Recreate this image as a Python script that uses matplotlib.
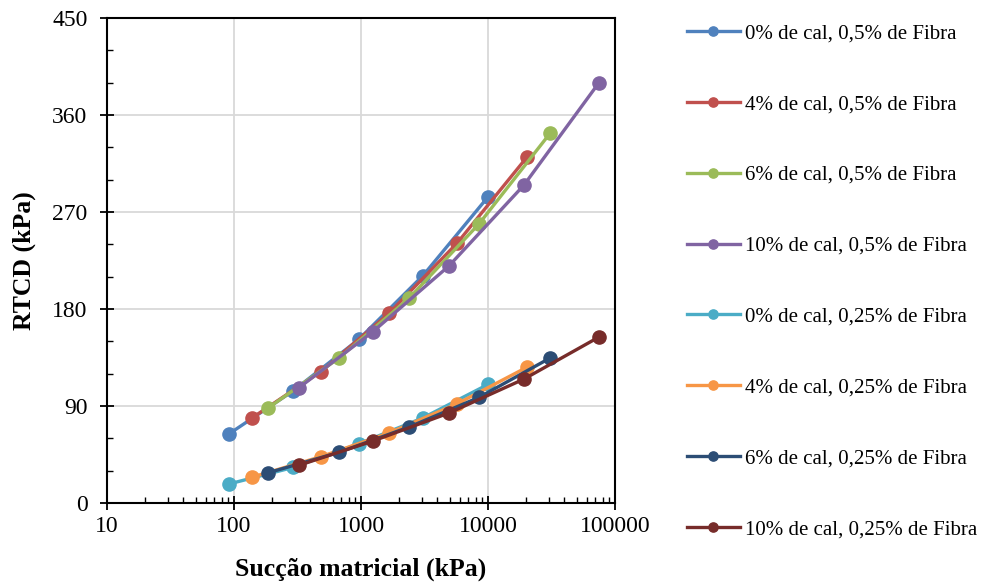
import numpy as np
import matplotlib.pyplot as plt
from matplotlib.ticker import LogLocator, MultipleLocator, NullFormatter

plt.rcParams['font.family'] = ['Liberation Serif', 'DejaVu Serif']

# Data (suction in kPa, RTCD in kPa)
labels = [
    "0% de cal, 0,5% de Fibra",
    "4% de cal, 0,5% de Fibra",
    "6% de cal, 0,5% de Fibra",
    "10% de cal, 0,5% de Fibra",
    "0% de cal, 0,25% de Fibra",
    "4% de cal, 0,25% de Fibra",
    "6% de cal, 0,25% de Fibra",
    "10% de cal, 0,25% de Fibra",
]
colors = ['#4F81BD', '#C0504D', '#9BBB59', '#8064A2',
          '#4BACC6', '#F79646', '#2C4D75', '#772C2A']

suc_0 = [91, 292, 964, 3077, 10000]
suc_4 = [139, 484, 1660, 5700, 20300]
suc_6 = [185, 671, 2390, 8500, 30800]
suc_10 = [325, 1242, 4930, 19200, 74800]

rtcd_0_05 = [64, 104, 152, 211, 284]
rtcd_4_05 = [79, 122, 176, 241, 321]
rtcd_6_05 = [88, 134.5, 190, 259, 343]
rtcd_10_05 = [107, 159, 220, 295, 390]
rtcd_0_025 = [17.6, 33, 55, 79, 110]
rtcd_4_025 = [24, 43, 65, 92, 126]
rtcd_6_025 = [28, 47, 70.5, 98, 134.5]
rtcd_10_025 = [35, 57.5, 83.5, 115, 154]

xs = [suc_0, suc_4, suc_6, suc_10, suc_0, suc_4, suc_6, suc_10]
ys = [rtcd_0_05, rtcd_4_05, rtcd_6_05, rtcd_10_05,
      rtcd_0_025, rtcd_4_025, rtcd_6_025, rtcd_10_025]

fig = plt.figure(figsize=(9.87, 5.87), dpi=100)
ax = fig.add_axes([107/987, 1 - 503/587, (615-107)/987, (503-18)/587])

for x, y, c, lab in zip(xs, ys, colors, labels):
    ax.plot(x, y, color=c, lw=2.4, marker='o', markersize=9.5, label=lab)

ax.set_xscale('log')
ax.set_xlim(10, 100000)
ax.set_ylim(0, 450)
ax.set_yticks([0, 90, 180, 270, 360, 450])
ax.yaxis.set_minor_locator(MultipleLocator(30))
ax.xaxis.set_minor_locator(LogLocator(base=10, subs=np.arange(2, 10)))
ax.xaxis.set_minor_formatter(NullFormatter())
ax.set_xticks([10, 100, 1000, 10000, 100000])
ax.set_xticklabels(['10', '100', '1000', '10000', '100000'])

ax.grid(True, which='major', color='#d9d9d9', lw=1.3)
ax.set_axisbelow(True)
ax.tick_params(which='major', direction='inout', length=10, width=1.3,
               labelsize=17, pad=4)
ax.tick_params(axis='y', which='major', pad=9)
ax.tick_params(which='minor', direction='in', length=4, width=1.0)
for s in ax.spines.values():
    s.set_linewidth(1.5)

ax.set_xlabel('Sucção matricial (kPa)', fontsize=18.5, fontweight='bold', labelpad=15)
ax.set_ylabel('RTCD (kPa)', fontsize=18.5, fontweight='bold', labelpad=12)

handles, labs = ax.get_legend_handles_labels()
fig.legend(handles, labs, loc='upper left', bbox_to_anchor=(668/987, 1 - 5/587),
           frameon=False, fontsize=15, markerscale=0.7, labelspacing=2.46,
           handlelength=2.55, handletextpad=0.25)

fig.savefig('out.png', dpi=100)
